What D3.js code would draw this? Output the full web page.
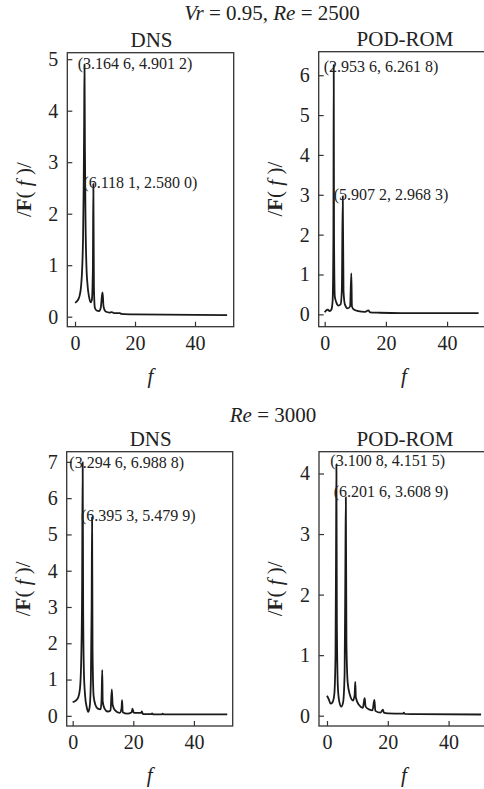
<!DOCTYPE html>
<html>
<head>
<meta charset="utf-8">
<script src="https://cdn.jsdelivr.net/npm/d3@7"></script>
<style>
  html, body { margin: 0; padding: 0; background: #fff; }
  svg { display: block; font-family: "Liberation Serif", "Times New Roman", serif; }
</style>
</head>
<body>
<svg id="chart" width="484" height="789"></svg>
<script>
// Spectrum amplitude |F(f)| against frequency f, as [f, amplitude] pairs.
// Vr = 0.95, Re = 2500
const dnsSpectrum2500 = [
  [0, 0.27], [0.8, 0.31], [1.5, 0.4], [2.0, 0.58], [2.4, 0.95], [2.7, 1.6], [2.9, 2.6], [3.05, 3.8],
  [3.3, 3.3], [3.5, 1.9], [3.8, 1.0], [4.2, 0.6], [4.7, 0.38], [5.2, 0.28], [5.6, 0.32], [5.95, 0.9],
  [6.3, 0.6], [6.6, 0.18], [7.2, 0.12], [8.0, 0.11], [8.6, 0.18], [9.0, 0.42], [9.2, 0.47], [9.5, 0.2],
  [10.2, 0.1], [11.5, 0.08], [12.2, 0.09], [13, 0.07], [15, 0.07], [15.4, 0.055], [20, 0.045],
  [30, 0.04], [40, 0.035], [50.7, 0.03]
];
const dnsPeaks2500 = [[3.1646, 4.9012], [6.1181, 2.5800]];

const romSpectrum2500 = [
  [0, 0.05], [0.5, 0.1], [1.0, 0.12], [1.6, 0.08], [2.2, 0.12], [2.6, 0.35], [2.85, 2.0],
  [3.05, 2.0], [3.3, 0.45], [3.8, 0.3], [4.5, 0.22], [5.2, 0.25], [5.6, 0.6],
  [6.15, 0.6], [6.6, 0.25], [7.5, 0.15], [8.3, 0.2], [8.7, 1.03], [8.9, 0.2], [9.5, 0.12],
  [11, 0.08], [13, 0.06], [14.3, 0.1], [14.8, 0.05], [18, 0.04], [25, 0.03], [50.3, 0.03]
];
const romPeaks2500 = [[2.9536, 6.2618], [5.9072, 2.9683]];

// Re = 3000
const dnsSpectrum3000 = [
  [0, 0.38], [1.0, 0.42], [1.8, 0.5], [2.4, 0.75], [2.8, 1.5], [3.1, 3.5],
  [3.45, 3.0], [3.7, 1.2], [4.1, 0.55], [4.6, 0.25], [5.1, 0.11], [5.6, 0.25], [6.0, 1.0], [6.25, 3.0],
  [6.55, 1.8], [6.9, 0.55], [7.5, 0.3], [8.3, 0.2], [9.2, 0.18], [9.5, 0.4], [9.75, 1.26], [9.9, 0.4],
  [10.5, 0.2], [11.5, 0.12], [12.5, 0.15], [12.9, 0.73], [13.2, 0.3], [14.0, 0.15], [15.5, 0.08],
  [16.1, 0.2], [16.3, 0.43], [16.5, 0.1], [18, 0.06], [19.5, 0.1], [19.7, 0.2], [20.2, 0.08],
  [22.6, 0.08], [22.8, 0.12], [23.2, 0.05], [26.0, 0.05], [26.2, 0.07], [26.6, 0.04],
  [29.5, 0.04], [29.7, 0.06], [30, 0.04], [51, 0.04]
];
const dnsPeaks3000 = [[3.2946, 6.9888], [6.3953, 5.4799]];

const romSpectrum3000 = [
  [0, 0.33], [0.6, 0.27], [1.2, 0.2], [1.8, 0.22], [2.4, 0.35], [2.8, 1.0], [3.0, 3.0],
  [3.25, 1.5], [3.6, 0.45], [4.1, 0.22], [4.7, 0.15], [5.3, 0.22], [5.8, 0.7], [6.05, 2.5],
  [6.4, 1.2], [6.8, 0.55], [7.5, 0.35], [8.6, 0.25], [9.1, 0.35], [9.3, 0.56], [9.5, 0.3],
  [10.5, 0.18], [11.8, 0.13], [12.2, 0.25], [12.4, 0.29], [12.7, 0.15], [14.0, 0.1], [15.0, 0.09],
  [15.4, 0.22], [15.6, 0.26], [15.9, 0.08], [17.6, 0.05], [18.4, 0.1], [18.7, 0.05], [20, 0.04],
  [25, 0.035], [25.3, 0.05], [25.6, 0.03], [30, 0.025], [50.7, 0.02]
];
const romPeaks3000 = [[3.1008, 4.1515], [6.2016, 3.6089]];

// Axis ticks
const xTicks = [0, 20, 40];
const yTicksDns2500 = [0, 1, 2, 3, 4, 5];
const yTicksRom2500 = [0, 1, 2, 3, 4, 5, 6];
const yTicksDns3000 = [0, 1, 2, 3, 4, 5, 6, 7];
const yTicksRom3000 = [0, 1, 2, 3, 4];

// Titles
const panelTitles = ["DNS", "POD-ROM"];

const svg = d3.select("#chart");
const ink = "#222";

// Row headings
const head1 = svg.append("text").attr("x", 272).attr("y", 20).attr("text-anchor", "middle")
  .attr("font-size", 21).attr("fill", ink);
head1.append("tspan").attr("font-style", "italic").text("Vr");
head1.append("tspan").text(" = 0.95, ");
head1.append("tspan").attr("font-style", "italic").text("Re");
head1.append("tspan").text(" = 2500");

const head2 = svg.append("text").attr("x", 273).attr("y", 422).attr("text-anchor", "middle")
  .attr("font-size", 21).attr("fill", ink);
head2.append("tspan").attr("font-style", "italic").text("Re");
head2.append("tspan").text(" = 3000");

// Peak label: "(3.164 6, 4.901 2)"
const grp = v => { const s = v.toFixed(4); return s.slice(0, -1) + " " + s.slice(-1); };

const panels = [
  { series: dnsSpectrum2500, peaks: dnsPeaks2500, title: panelTitles[0],
    frame: { l: 67.3, t: 52.7, r: 233.7, b: 326.7 }, xd: [-2.57, 52.9], yd: [-0.194, 5.126],
    yTicks: yTicksDns2500, labelAt: [[77.7, 69], [83.3, 188]] },
  { series: romSpectrum2500, peaks: romPeaks2500, title: panelTitles[1],
    frame: { l: 318.7, t: 51.7, r: 489.3, b: 326.7 }, xd: [-1.96, 53.8], yd: [-0.31, 6.59],
    yTicks: yTicksRom2500, labelAt: [[323.7, 72], [333.7, 200]] },
  { series: dnsSpectrum3000, peaks: dnsPeaks3000, title: panelTitles[0],
    frame: { l: 66.7, t: 451.7, r: 232.7, b: 726 }, xd: [-1.98, 52.8], yd: [-0.28, 7.28],
    yTicks: yTicksDns3000, labelAt: [[69.3, 468], [81, 521]] },
  { series: romSpectrum3000, peaks: romPeaks3000, title: panelTitles[1],
    frame: { l: 319, t: 451.7, r: 489, b: 726 }, xd: [-2.63, 53.3], yd: [-0.17, 4.36],
    yTicks: yTicksRom3000, labelAt: [[330.3, 466], [333.7, 497]] }
];

panels.forEach(p => {
  const f = p.frame;
  const x = d3.scaleLinear().domain(p.xd).range([f.l, f.r]);
  const y = d3.scaleLinear().domain(p.yd).range([f.b, f.t]);
  const cx = (f.l + f.r) / 2;
  const g = svg.append("g");

  // spectrum line, with the labelled peaks merged in
  const pts = p.series.concat(p.peaks).sort((a, b) => a[0] - b[0]);
  const line = d3.line().x(d => x(d[0])).y(d => y(d[1])).curve(d3.curveMonotoneX);
  g.append("path").datum(pts).attr("d", line)
    .attr("fill", "none").attr("stroke", "#1a1a1a").attr("stroke-width", 1.8)
    .attr("stroke-linejoin", "round");

  // frame
  g.append("rect").attr("x", f.l).attr("y", f.t).attr("width", f.r - f.l).attr("height", f.b - f.t)
    .attr("fill", "none").attr("stroke", "#333").attr("stroke-width", 1.3);

  // axes with inward ticks
  const xa = g.append("g").attr("transform", `translate(0,${f.b})`)
    .call(d3.axisBottom(x).tickValues(xTicks).tickSize(-5).tickPadding(9).tickFormat(d3.format("d")));
  const ya = g.append("g").attr("transform", `translate(${f.l},0)`)
    .call(d3.axisLeft(y).tickValues(p.yTicks).tickSize(-5).tickPadding(9).tickFormat(d3.format("d")));
  [xa, ya].forEach(a => {
    a.select(".domain").remove();
    a.selectAll(".tick line").attr("stroke", "#333").attr("stroke-width", 1.2);
    a.selectAll(".tick text").attr("font-size", 20).attr("fill", ink)
      .attr("font-family", "Liberation Serif, serif");
  });

  // panel title
  g.append("text").attr("x", cx + 1).attr("y", f.t - 6).attr("text-anchor", "middle")
    .attr("font-size", 21).attr("fill", ink).text(p.title);

  // x label
  g.append("text").attr("x", cx).attr("y", f.b + 56).attr("text-anchor", "middle")
    .attr("font-size", 21).attr("font-style", "italic").attr("fill", ink).text("f");

  // y label |F(f)|
  const yl = g.append("text").attr("transform", `translate(${f.l - 44},${(f.t + f.b) / 2}) rotate(-90)`)
    .attr("text-anchor", "middle").attr("dy", "0.35em").attr("font-size", 21).attr("fill", ink);
  yl.append("tspan").text("/");
  yl.append("tspan").attr("font-weight", "bold").text("F");
  yl.append("tspan").text("( ");
  yl.append("tspan").attr("font-style", "italic").text("f");
  yl.append("tspan").text(" )/");

  // peak annotations
  p.peaks.forEach((pk, i) => {
    g.append("text").attr("x", p.labelAt[i][0]).attr("y", p.labelAt[i][1])
      .attr("font-size", 16).attr("fill", ink)
      .text(`(${grp(pk[0])}, ${grp(pk[1])})`);
  });
});
</script>
</body>
</html>
